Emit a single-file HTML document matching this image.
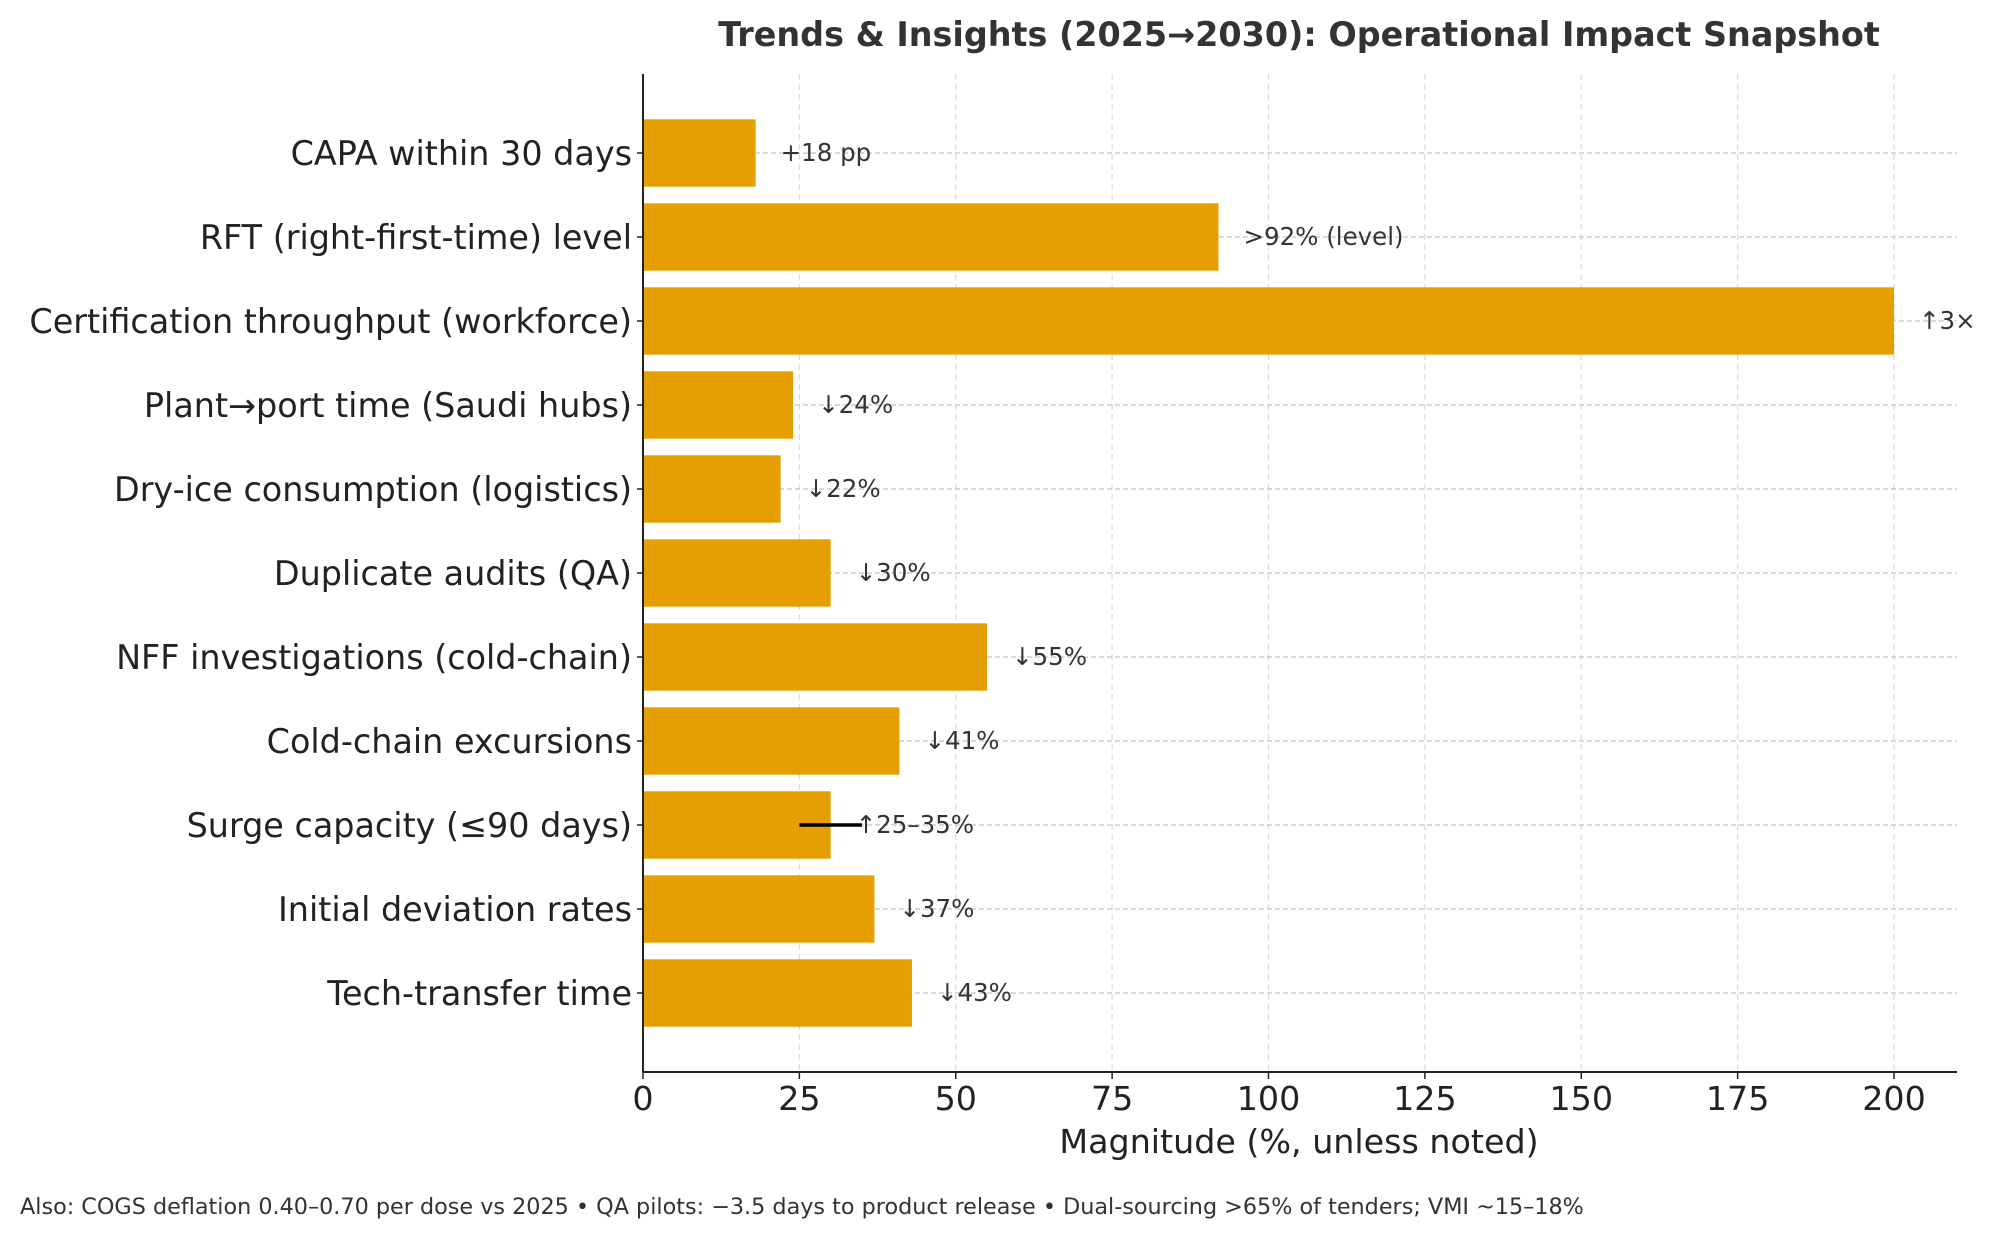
<!DOCTYPE html>
<html><head><meta charset="utf-8"><style>
body{margin:0;background:#fff;}
svg{display:block;font-family:"DejaVu Sans","Liberation Sans",sans-serif;}
</style></head><body>
<svg id="chart" width="1996" height="1240" viewBox="0 0 1996 1240" xmlns="http://www.w3.org/2000/svg">
<text x="1299" y="46" text-anchor="middle" font-size="33.4" font-weight="bold" fill="#333">Trends &amp; Insights (2025→2030): Operational Impact Snapshot</text>
<g id="grid"></g><g id="bars"></g><g id="labels"></g><g id="axes"></g>
<text x="1299" y="1153" text-anchor="middle" font-size="33.3" fill="#222">Magnitude (%, unless noted)</text>
<text x="20" y="1214" font-size="22.3" fill="#333">Also: COGS deflation 0.40–0.70 per dose vs 2025 • QA pilots: −3.5 days to product release • Dual-sourcing &gt;65% of tenders; VMI ~15–18%</text>
</svg>
<script>
const categories=["CAPA within 30 days","RFT (right-first-time) level","Certification throughput (workforce)","Plant→port time (Saudi hubs)","Dry-ice consumption (logistics)","Duplicate audits (QA)","NFF investigations (cold-chain)","Cold-chain excursions","Surge capacity (≤90 days)","Initial deviation rates","Tech-transfer time"];
const values=[18,92,200,24,22,30,55,41,30,37,43];
const valueLabels=["+18 pp",">92% (level)","↑3×","↓24%","↓22%","↓30%","↓55%","↓41%","↑25–35%","↓37%","↓43%"];
const errLow=[null,null,null,null,null,null,null,null,25,null,null];
const errHigh=[null,null,null,null,null,null,null,null,35,null,null];
const xTicks=[0,25,50,75,100,125,150,175,200];
const NS="http://www.w3.org/2000/svg";
const X0=643,PX=(1894-643)/200,XR=1957,YT=74,YB=1072,Y0=153,STEP=84;
const xs=v=>X0+v*PX, ys=i=>Y0+i*STEP;
function mk(tag,attrs,parent,text){const e=document.createElementNS(NS,tag);for(const k in attrs)e.setAttribute(k,attrs[k]);if(text!=null)e.textContent=text;document.getElementById(parent).appendChild(e);return e;}
xTicks.forEach(t=>{if(t===0)return;const l=mk('line',{x1:xs(t),x2:xs(t),y1:YT,y2:YB,stroke:'#ddd','stroke-width':1.3,'stroke-dasharray':'6,4'},'grid');

});
categories.forEach((c,i)=>{const l=mk('line',{x1:X0,x2:XR,y1:ys(i),y2:ys(i),stroke:'#c4c4c4','stroke-width':1.3,'stroke-dasharray':'5,3'},'grid');


const b=mk('rect',{x:X0,y:ys(i)-33.7,width:xs(values[i])-X0,height:67.4,fill:'#E69F00'},'bars');


if(errLow[i]!=null){const e=mk('line',{x1:xs(errLow[i]),x2:xs(errHigh[i]),y1:ys(i),y2:ys(i),stroke:'#000','stroke-width':3.5},'bars');

}
const vl=mk('text',{x:xs(values[i])+25,y:ys(i)+8,'font-size':24.5,fill:'#333'},'labels',valueLabels[i]);


const cl=mk('text',{x:632,y:ys(i)+12,'font-size':33.4,fill:'#222','text-anchor':'end'},'labels',c);


const tk=mk('line',{x1:X0-6,x2:X0,y1:ys(i),y2:ys(i),stroke:'#222','stroke-width':1.5},'axes');

});
xTicks.forEach(t=>{const tk=mk('line',{x1:xs(t),x2:xs(t),y1:YB,y2:YB+7,stroke:'#222','stroke-width':1.5},'axes');


const tl=mk('text',{x:xs(t),y:YB+38,'font-size':33.3,fill:'#222','text-anchor':'middle'},'axes',String(t));

});
const ya=mk('line',{x1:X0,x2:X0,y1:YT,y2:YB,stroke:'#222','stroke-width':2},'axes');


const xa=mk('line',{x1:X0,x2:XR,y1:YB,y2:YB,stroke:'#222','stroke-width':2},'axes');


</script>
</body></html>
